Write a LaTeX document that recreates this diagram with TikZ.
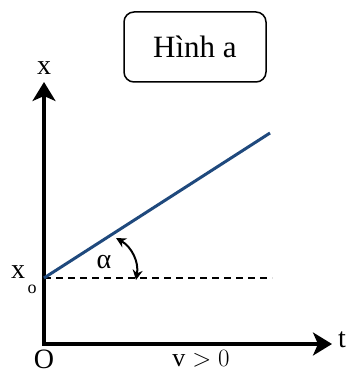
\documentclass[tikz,border=0pt]{standalone}
\usepackage{fontspec}
\setmainfont{Liberation Serif}
\usetikzlibrary{arrows.meta}
\definecolor{lineblue}{RGB}{31,73,125}
\begin{document}
\begin{tikzpicture}[x=1pt,y=-1pt,
  axis/.style={line width=3.2pt,-{Stealth[length=19pt,width=23pt,inset=5pt]}},
  lbl/.style={inner sep=0pt,font=\fontsize{28}{30}\selectfont},
  title/.style={draw,line width=1.5pt,rounded corners=10pt,minimum width=142pt,minimum height=70pt,font=\fontsize{31}{33}\selectfont,inner sep=0pt},
  graphline/.style={line width=3pt,color=lineblue},
  guide/.style={line width=1.5pt,dash pattern=on 7pt off 5pt},
  anglearrow/.style={line width=2pt,{Stealth[length=10pt,width=10pt]}-{Stealth[length=10pt,width=10pt]}}]
\useasboundingbox (0,0) rectangle (348,374);
\node[title] (box) at (195,47) {Hình a};
\coordinate (o) at (44,344);
\coordinate (ytip) at (44,82);
\coordinate (xtip) at (332,344);
\coordinate (x0) at (44,278);
\coordinate (dend) at (272,278);
\coordinate (lend) at (270,133);
\coordinate (a1) at (116,238);
\coordinate (a2) at (136,280);
\draw[axis] (o) -- (ytip);
\draw[axis] ([xshift=-1.6pt]o) -- (xtip);
\draw[guide] (x0) -- (dend);
\draw[graphline] (x0) -- (lend);
\draw[anglearrow] (a1) to[bend left=35] (a2);
\node[lbl] (xl) at (44,68) {x};
\node[lbl] (tl) at (342,340) {t};
\node[lbl] (ol) at (44,359) {O};
\node[lbl] (x0l) at (18,272) {x};
\node[inner sep=0pt,font=\fontsize{18}{19}\selectfont] (osub) at (32,289) {o};
\node[lbl] (al) at (104,262) {α};
\node[inner sep=0pt,font=\fontsize{26}{28}\selectfont] (vl) at (201,359) {$\mathrm{v}>0$};
\end{tikzpicture}
\end{document}
